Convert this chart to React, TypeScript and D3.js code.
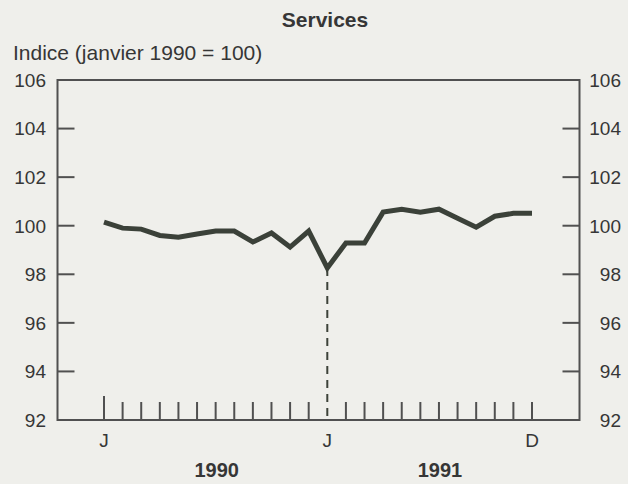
import * as d3 from "d3";
import { useEffect, useRef } from "react";

// monthly index, Jan 1990 .. Dec 1991
const months = ["J", "F", "M", "A", "M", "J", "J", "A", "S", "O", "N", "D",
  "J", "F", "M", "A", "M", "J", "J", "A", "S", "O", "N", "D"];
const services = [
  100.15, 99.9, 99.86, 99.6, 99.53, 99.66, 99.78, 99.78, 99.33, 99.7, 99.12, 99.78,
  98.26, 99.29, 99.29, 100.56, 100.68, 100.56, 100.68, 100.31, 99.94, 100.39, 100.51, 100.51,
];
const yTicks = [92, 94, 96, 98, 100, 102, 104, 106];
const xLabels = [
  { i: 0, text: "J" },
  { i: 12, text: "J" },
  { i: 23, text: "D" },
];
const years = [
  { i: 6, text: "1990" },
  { i: 18, text: "1991" },
];

const W = 628;
const H = 484;

export default function App() {
  const svgRef = useRef<SVGSVGElement>(null);

  useEffect(() => {
    const svg = d3.select(svgRef.current);
    svg.selectAll("*").remove();

    const left = 57.5, right = 579.5, top = 80, bottom = 420;
    const x = d3.scaleLinear().domain([0, 23]).range([104, 532]);
    const y = d3.scaleLinear().domain([92, 106]).range([bottom, top]);
    const ink = "#363636";
    const font = "'Liberation Sans', Arial, sans-serif";

    svg.append("rect").attr("width", W).attr("height", H).attr("fill", "#efefeb");

    // titles
    svg.append("text")
      .attr("x", 325).attr("y", 27)
      .attr("text-anchor", "middle")
      .attr("font-family", font).attr("font-weight", "bold").attr("font-size", 21)
      .attr("fill", ink)
      .text("Services");
    svg.append("text")
      .attr("x", 13).attr("y", 60)
      .attr("font-family", font).attr("font-size", 21)
      .attr("fill", ink)
      .text("Indice (janvier 1990 = 100)");

    // frame
    svg.append("rect")
      .attr("x", left).attr("y", top)
      .attr("width", right - left).attr("height", bottom - top)
      .attr("fill", "none").attr("stroke", "#505050").attr("stroke-width", 2);

    // y ticks + labels on both sides
    const inner = yTicks.filter((t) => t !== 92 && t !== 106);
    svg.append("g").selectAll("line").data(inner).join("line")
      .attr("x1", left).attr("x2", left + 17)
      .attr("y1", (d) => y(d)).attr("y2", (d) => y(d))
      .attr("stroke", "#505050").attr("stroke-width", 2);
    svg.append("g").selectAll("line").data(inner).join("line")
      .attr("x1", right - 17).attr("x2", right)
      .attr("y1", (d) => y(d)).attr("y2", (d) => y(d))
      .attr("stroke", "#505050").attr("stroke-width", 2);

    svg.append("g").selectAll("text").data(yTicks).join("text")
      .attr("x", 46).attr("y", (d) => y(d))
      .attr("dy", "0.36em").attr("text-anchor", "end")
      .attr("font-family", font).attr("font-size", 19).attr("fill", ink)
      .text((d) => d);
    svg.append("g").selectAll("text").data(yTicks).join("text")
      .attr("x", 621).attr("y", (d) => y(d))
      .attr("dy", "0.36em").attr("text-anchor", "end")
      .attr("font-family", font).attr("font-size", 19).attr("fill", ink)
      .text((d) => d);

    // month ticks along the bottom
    svg.append("g").selectAll("line")
      .data(d3.range(months.length).filter((i) => i !== 12))
      .join("line")
      .attr("x1", (i) => x(i)).attr("x2", (i) => x(i))
      .attr("y1", (i) => (i === 0 ? bottom - 24 : bottom - 18)).attr("y2", bottom)
      .attr("stroke", "#505050").attr("stroke-width", 2);

    // dashed drop line at January 1991
    svg.append("line")
      .attr("x1", x(12)).attr("x2", x(12))
      .attr("y1", y(services[12])).attr("y2", bottom)
      .attr("stroke", "#3d4239").attr("stroke-width", 2)
      .attr("stroke-dasharray", "8,6");

    svg.append("g").selectAll("text").data(xLabels).join("text")
      .attr("x", (d) => x(d.i)).attr("y", 447)
      .attr("text-anchor", "middle")
      .attr("font-family", font).attr("font-size", 19).attr("fill", ink)
      .text((d) => d.text);
    svg.append("g").selectAll("text").data(years).join("text")
      .attr("x", (d) => x(d.i) + 1).attr("y", 477)
      .attr("text-anchor", "middle")
      .attr("font-family", font).attr("font-weight", "bold").attr("font-size", 20)
      .attr("fill", ink)
      .text((d) => d.text);

    // the series
    const line = d3.line<number>()
      .x((_, i) => x(i))
      .y((d) => y(d));
    svg.append("path")
      .datum(services)
      .attr("d", line)
      .attr("fill", "none")
      .attr("stroke", "#3b4139")
      .attr("stroke-width", 5)
      .attr("stroke-linejoin", "miter");
  }, []);

  return (
    <svg
      ref={svgRef}
      width={W}
      height={H}
      style={{ position: "absolute", left: 0, top: 0, display: "block" }}
    />
  );
}
